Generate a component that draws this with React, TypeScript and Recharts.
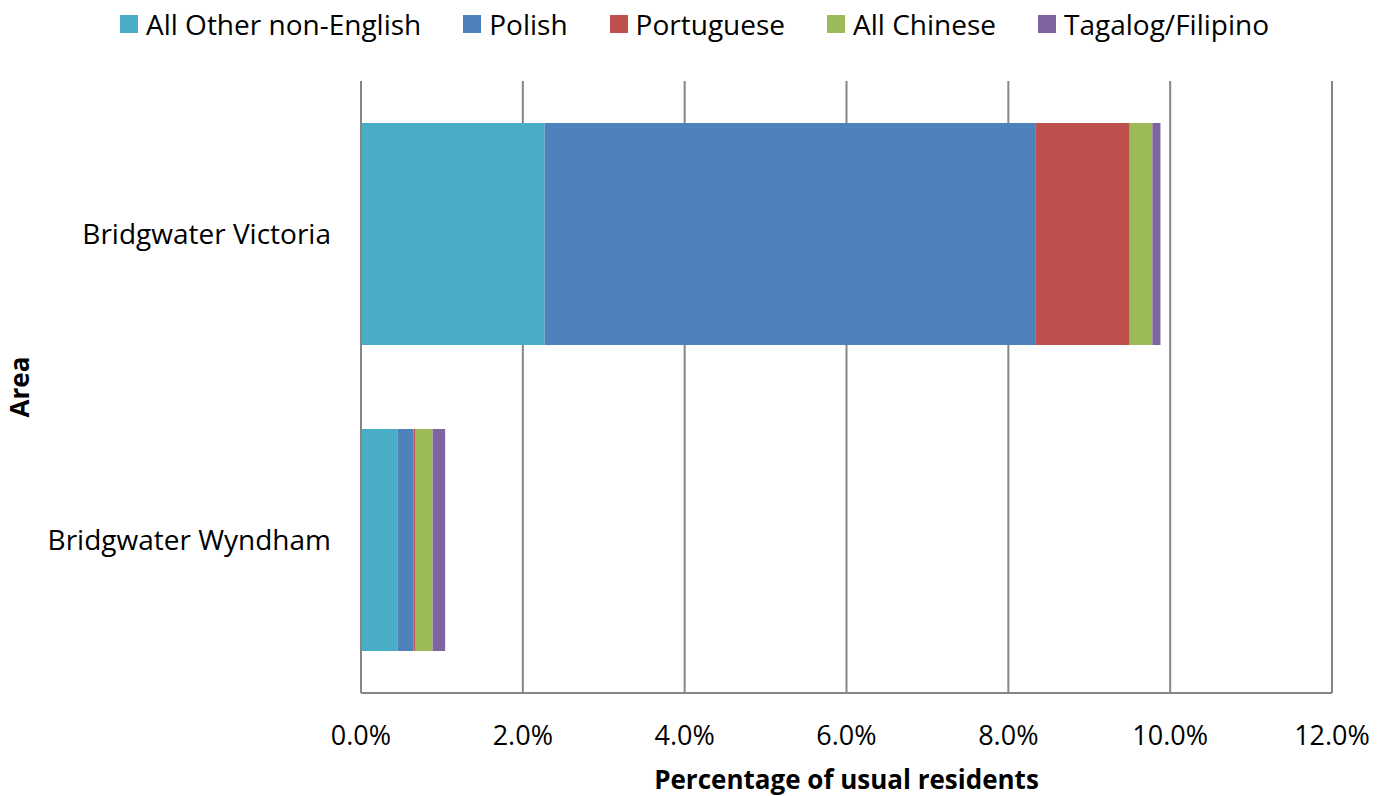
import React from "react";
import { BarChart, Bar, XAxis, YAxis, CartesianGrid } from "recharts";

// Percent of usual residents by language
const areas = ["Bridgwater Victoria", "Bridgwater Wyndham"];
const allOther = [2.27, 0.45];
const polish = [6.07, 0.2];
const portuguese = [1.16, 0.025];
const allChinese = [0.28, 0.21];
const tagalog = [0.1, 0.155];
const xTicks = [0, 2, 4, 6, 8, 10, 12];

const series = [
  { key: "allOther", name: "All Other non-English", color: "#4BACC6" },
  { key: "polish", name: "Polish", color: "#4F81BD" },
  { key: "portuguese", name: "Portuguese", color: "#C0504D" },
  { key: "allChinese", name: "All Chinese", color: "#9BBB59" },
  { key: "tagalog", name: "Tagalog/Filipino", color: "#8064A2" },
];

const data = areas.map((area, i) => ({
  area,
  allOther: allOther[i],
  polish: polish[i],
  portuguese: portuguese[i],
  allChinese: allChinese[i],
  tagalog: tagalog[i],
}));

const FONT = "'Open Sans', sans-serif";

function LegendRow() {
  return (
    <div
      style={{
        position: "absolute",
        left: 0,
        top: 6,
        width: 1389,
        display: "flex",
        justifyContent: "center",
        gap: 42,
        fontFamily: FONT,
        fontSize: 28,
        lineHeight: "36px",
        color: "#000",
      }}
    >
      {series.map((s) => (
        <div key={s.key} style={{ display: "flex", alignItems: "center" }}>
          <span
            style={{
              width: 18,
              height: 18,
              background: s.color,
              display: "inline-block",
              marginRight: 8,
            }}
          />
          <span>{s.name}</span>
        </div>
      ))}
    </div>
  );
}

export default function App() {
  return (
    <div
      style={{
        position: "absolute",
        left: 0,
        top: 0,
        width: 1389,
        height: 796,
        background: "#fff",
      }}
    >
      <BarChart
        width={1389}
        height={796}
        data={data}
        layout="vertical"
        margin={{ top: 81, right: 57, left: 0, bottom: 0 }}
        barCategoryGap="13.7%"
      >
        <CartesianGrid horizontal={false} stroke="#868686" strokeWidth={2} />
        <XAxis
          type="number"
          domain={[0, 12]}
          ticks={xTicks}
          tickFormatter={(v) => `${v.toFixed(1)}%`}
          tickLine={false}
          tickMargin={27}
          height={103}
          axisLine={{ stroke: "#868686", strokeWidth: 2 }}
          tick={{ fill: "#000", fontSize: 27, fontFamily: FONT }}
          label={{
            value: "Percentage of usual residents",
            position: "insideBottom",
            offset: 7,
            style: {
              fill: "#000",
              fontSize: 26,
              fontWeight: 700,
              fontFamily: FONT,
            },
          }}
        />
        <YAxis
          type="category"
          dataKey="area"
          width={361}
          tickLine={false}
          tickMargin={24}
          axisLine={{ stroke: "#868686", strokeWidth: 2 }}
          tick={{ fill: "#000", fontSize: 28, fontFamily: FONT }}
          label={{
            value: "Area",
            angle: -90,
            position: "insideLeft",
            offset: 20,
            style: {
              textAnchor: "middle",
              fill: "#000",
              fontSize: 26,
              fontWeight: 700,
              fontFamily: FONT,
            },
          }}
        />
        {series.map((s) => (
          <Bar
            key={s.key}
            dataKey={s.key}
            name={s.name}
            stackId="a"
            fill={s.color}
            isAnimationActive={false}
          />
        ))}
      </BarChart>
      <LegendRow />
    </div>
  );
}
